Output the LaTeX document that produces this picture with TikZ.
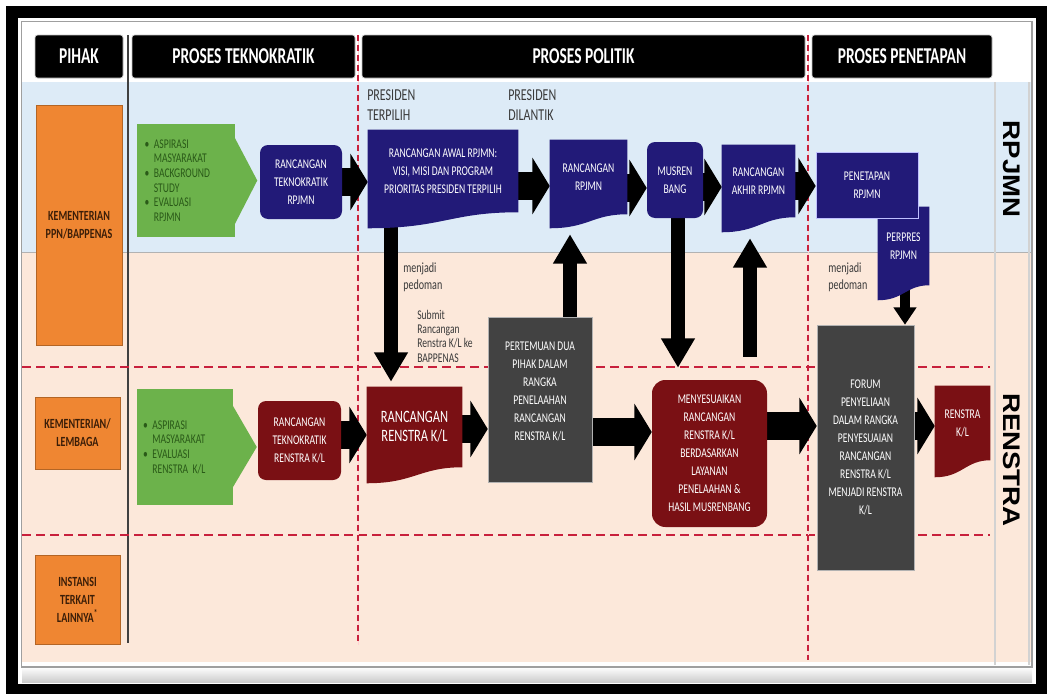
\documentclass[tikz,border=0pt]{standalone}
\usepackage{fontspec}
\usetikzlibrary{arrows.meta,calc}
\newfontfamily\cf[FakeStretch=0.72]{Carlito}
\newfontfamily\hf[FakeStretch=0.68]{Carlito}
\newfontfamily\lab[FakeStretch=1.15]{Liberation Sans}

\definecolor{navy}{HTML}{221A78}
\definecolor{kred}{HTML}{7A1014}
\definecolor{kgray}{HTML}{424242}
\definecolor{korange}{HTML}{EF8632}
\definecolor{kgreen}{HTML}{6CB24B}
\definecolor{lblue}{HTML}{DDEBF7}
\definecolor{peach}{HTML}{FCE8DA}
\definecolor{dashred}{HTML}{C8203C}
\definecolor{gtext}{HTML}{2A5A18}
\definecolor{otext}{HTML}{3B1E08}
\definecolor{ltext}{HTML}{3A3A3A}

\pgfdeclarelayer{bands}
\pgfdeclarelayer{arr}
\pgfdeclarelayer{docs}
\pgfsetlayers{bands,arr,docs,main}

% wavy-bottom document shape behind a node: node, colour, dip of the left corner (px)
\newcommand\docfill[3]{%
  \begin{pgfonlayer}{docs}
  \fill[#2] (#1.north west) -- (#1.north east) -- (#1.south east)
    .. controls ($(#1.south east)!0.45!(#1.south west)$) and ($(#1.south east)!0.5!(#1.south west)+(0,#3)$)
    .. ($(#1.south west)+(0,#3)$) -- cycle;
  \end{pgfonlayer}}

\tikzset{
  sz/.style 2 args={minimum width=#1*0.75pt, minimum height=#2*0.75pt},
  box/.style={inner sep=0pt, align=center, text=white,
    font=\cf\fontsize{10}{13.5}\selectfont},
  navyrect/.style={box, fill=navy},
  navyround/.style={box, fill=navy, rounded corners=6pt},
  redround/.style={box, fill=kred, rounded corners=6pt},
  grayrect/.style={box, fill=kgray, draw=gray!60, line width=0.4pt},
  doc/.style={box},
  orangebox/.style={inner sep=0pt, align=center, fill=korange, draw=korange!75!black,
    line width=0.5pt, text=otext, font=\cf\bfseries\fontsize{10.5}{13.5}\selectfont},
  greenbox/.style={inner xsep=5pt, inner ysep=0pt, align=left, text width=62pt,
    fill=kgreen, text=gtext, font=\cf\fontsize{10}{11}\selectfont},
  header/.style={inner sep=0pt, fill=black, draw=gray!45, line width=0.5pt,
    rounded corners=2pt, text=white, font=\hf\bfseries\fontsize{17}{20}\selectfont},
  lbl/.style={inner sep=0pt, align=left, text=ltext},
  side/.style={inner sep=0pt, rotate=-90, text=black,
    font=\lab\bfseries\fontsize{18}{20}\selectfont},
  harrow/.style={black, line width=21pt, -{Triangle[length=13pt,width=42pt]}},
  varrow/.style={black, line width=10pt, -{Triangle[length=22pt,width=24pt]}},
  varrowsmall/.style={black, line width=7.5pt, -{Triangle[length=13pt,width=16.5pt]}},
  reddash/.style={dashred, line width=2.2pt, dash pattern=on 7pt off 3.5pt},
  reddashv/.style={dashred, line width=1.8pt, dash pattern=on 4.5pt off 3pt},
}

\begin{document}
\begin{tikzpicture}[x=0.75pt, y=-0.75pt]
\useasboundingbox (0,0) rectangle (1047,696);

\begin{pgfonlayer}{bands}
  % frame
  \fill[white] (0,0) rectangle (1047,696);
  \fill[black] (6,6) rectangle (1047,694);
  \fill[white] (18,18) rectangle (1036,684);
  \shade[top color=white, bottom color=gray!40] (22,667) rectangle (1032,682);
  \draw[gray!75, line width=0.9pt] (21.5,21.5) rectangle (1032,667);
  % swim lanes and grid
  \fill[lblue] (22,82) rectangle (1031,252);
  \fill[peach] (22,253) rectangle (1031,662);
  \draw[gray!60, line width=1.2pt] (22,252.5) -- (1031,252.5);
  \draw[gray!35, line width=1pt] (995,82) -- (995,665);
  \draw[gray!35, line width=1pt] (1029,82) -- (1029,665);
  \draw[black!75, line width=1.9pt] (128,35) -- (128,643);
  \draw[reddash] (22,367) -- (990,367);
  \draw[reddash] (22,535) -- (990,535);
  \draw[pink!70, line width=0.6pt] (358,35) -- (358,645);
  \draw[reddashv] (358,35) -- (358,645);
  \draw[pink!70, line width=0.6pt] (808,35) -- (808,660);
  \draw[reddashv] (808,35) -- (808,660);
\end{pgfonlayer}

% column headers
\node[header, sz={88}{43}] (hpihak) at (79,56.5) {PIHAK};
\node[header, sz={223}{43}] (htek) at (243.5,56.5) {PROSES TEKNOKRATIK};
\node[header, sz={443}{43}] (hpol) at (583.5,56.5) {PROSES POLITIK};
\node[header, sz={180}{43}] (hpen) at (902,56.5) {PROSES PENETAPAN};

% parties
\node[orangebox, sz={86}{240}] (o1) at (79,225) {KEMENTERIAN\\PPN/BAPPENAS};
\node[orangebox, sz={85}{72}] (o2) at (77.5,433) {KEMENTERIAN/\\LEMBAGA};
\node[orangebox, sz={85}{89}] (o3) at (77.5,599.5) {INSTANSI\\TERKAIT\\LAINNYA\textsuperscript{*}};

% inputs
\node[greenbox, sz={98}{113}] (g1) at (186,180.5)
  {\textbullet\ ASPIRASI\\\hphantom{\textbullet\ }MASYARAKAT\\\textbullet\ BACKGROUND\\\hphantom{\textbullet\ }STUDY\\\textbullet\ EVALUASI\\\hphantom{\textbullet\ }RPJMN};
\node[greenbox, sz={95}{116}] (g2) at (184.5,447)
  {\textbullet\ ASPIRASI\\\hphantom{\textbullet\ }MASYARAKAT\\\textbullet\ EVALUASI\\\hphantom{\textbullet\ }RENSTRA K/L};
\begin{pgfonlayer}{docs}
  \fill[kgreen] ($(g1.north east)+(-0.5,14)$) -- ($(g1.east)+(22,0)$) -- ($(g1.south east)+(-0.5,-13)$) -- cycle;
  \fill[kgreen] ($(g2.north east)+(-0.5,16)$) -- ($(g2.east)+(24,0)$) -- ($(g2.south east)+(-0.5,-17)$) -- cycle;
\end{pgfonlayer}

% RPJMN lane
\node[navyround, sz={82}{74}] (b1) at (301,182) {RANCANGAN\\TEKNOKRATIK\\RPJMN};
\node[doc, sz={150}{82}] (b2) at (443,171) {RANCANGAN AWAL RPJMN:\\VISI, MISI DAN PROGRAM\\PRIORITAS PRESIDEN TERPILIH};
\docfill{b2}{navy}{16}
\node[doc, sz={77}{74}] (b3) at (588.5,177) {RANCANGAN\\RPJMN};
\docfill{b3}{navy}{14}
\node[navyround, sz={56}{76}] (b4) at (675,180) {MUSREN\\BANG};
\node[doc, sz={73}{72}] (b5) at (758.5,181) {RANCANGAN\\AKHIR RPJMN};
\docfill{b5}{navy}{15}
\node[doc, sz={51}{78}] (b7) at (903.5,246) {PERPRES\\RPJMN};
\docfill{b7}{navy}{15}
\node[navyrect, draw=blue!25!white, line width=0.5pt, sz={102}{66}] (b6) at (867,185) {PENETAPAN\\RPJMN};

% RENSTRA lane
\node[redround, sz={83}{79}] (r1) at (299.5,440.5) {RANCANGAN\\TEKNOKRATIK\\RENSTRA K/L};
\node[doc, sz={95}{80}, font=\cf\fontsize{13}{14.5}\selectfont] (r2) at (414.5,427) {RANCANGAN\\RENSTRA K/L};
\docfill{r2}{kred}{16}
\node[grayrect, sz={104}{165}] (k1) at (540,399.5) {};
\node[box] (k1t) at (540,392) {PERTEMUAN DUA\\PIHAK DALAM\\RANGKA\\PENELAAHAN\\RANCANGAN\\RENSTRA K/L};
\node[redround, rounded corners=10pt, sz={115}{147}] (r3) at (709.5,453.5)
  {MENYESUAIKAN\\RANCANGAN\\RENSTRA K/L\\BERDASARKAN\\LAYANAN\\PENELAAHAN \&\\HASIL MUSRENBANG};
\node[grayrect, sz={97}{245}] (k2) at (865.5,447.5)
  {FORUM\\PENYELIAAN\\DALAM RANGKA\\PENYESUAIAN\\RANCANGAN\\RENSTRA K/L\\MENJADI RENSTRA\\K/L};
\node[doc, sz={55}{74}] (r4) at (962.5,423) {RENSTRA\\K/L};
\docfill{r4}{kred}{17}

% annotations
\node[lbl, anchor=west, font=\cf\fontsize{12.5}{15}\selectfont] (terpilih) at (367,105) {PRESIDEN\\TERPILIH};
\node[lbl, anchor=west, font=\cf\fontsize{12.5}{15}\selectfont] (dilantik) at (508,105) {PRESIDEN\\DILANTIK};
\node[lbl, anchor=west, font=\cf\fontsize{10.5}{13}\selectfont] (ped1) at (403,277) {menjadi\\pedoman};
\node[lbl, anchor=west, font=\cf\fontsize{10.5}{13}\selectfont] (ped2) at (828,277) {menjadi\\pedoman};
\node[lbl, anchor=west, font=\cf\fontsize{10}{10.75}\selectfont] (submit) at (417,336) {Submit\\Rancangan\\Renstra K/L ke\\BAPPENAS};

% lane titles
\node[side] (trpjmn) at (1012,169) {RPJMN};
\node[side] (trenstra) at (1012,460) {RENSTRA};

% flow arrows
\begin{pgfonlayer}{arr}
  \draw[harrow] (b1.center) -- ($(b2.west)+(0,11)$);
  \draw[harrow] ($(b2.center)+(0,15)$) -- ($(b3.west)+(0,9)$);
  \draw[harrow] ($(b3.center)+(0,11)$) -- ($(b4.west)+(0,8)$);
  \draw[harrow] ($(b4.center)+(0,7)$) -- ($(b5.west)+(0,6)$);
  \draw[harrow] ($(b5.center)+(0,5)$) -- ($(b6.west)+(0,1)$);
  \draw[harrow] ($(r1.center)+(0,-5.5)$) -- ($(r2.west)+(0,8)$);
  \draw[harrow] ($(r2.center)+(0,2)$) -- ($(k1.west)+(0,29.5)$);
  \draw[harrow] ($(k1.center)+(0,32.5)$) -- ($(r3.west)+(0,-21.5)$);
  \draw[harrow] ($(r3.center)+(0,-27.5)$) -- ($(k2.west)+(0,-21.5)$);
  \draw[harrow] ($(k2.center)+(0,-21.5)$) -- ($(r4.west)+(0,3)$);
  \draw[varrow] ($(b2.center)+(-52,0)$) -- ($(r2.north)+(-23.5,-5)$);
  \draw[varrow] ($(k1.north)+(30,0)$) -- ($(b3.south)+(-18.5,20)$);
  \draw[varrow] ($(b4.center)+(3,0)$) -- ($(r3.north)+(-31.5,-12)$);
  \draw[varrow] ($(r3.north)+(40.5,-23)$) -- ($(b5.south)+(-8.5,21)$);
  \draw[varrowsmall] ($(b7.center)+(1.5,0)$) -- ($(k2.north)+(39.5,0)$);
\end{pgfonlayer}
\end{tikzpicture}
\end{document}
